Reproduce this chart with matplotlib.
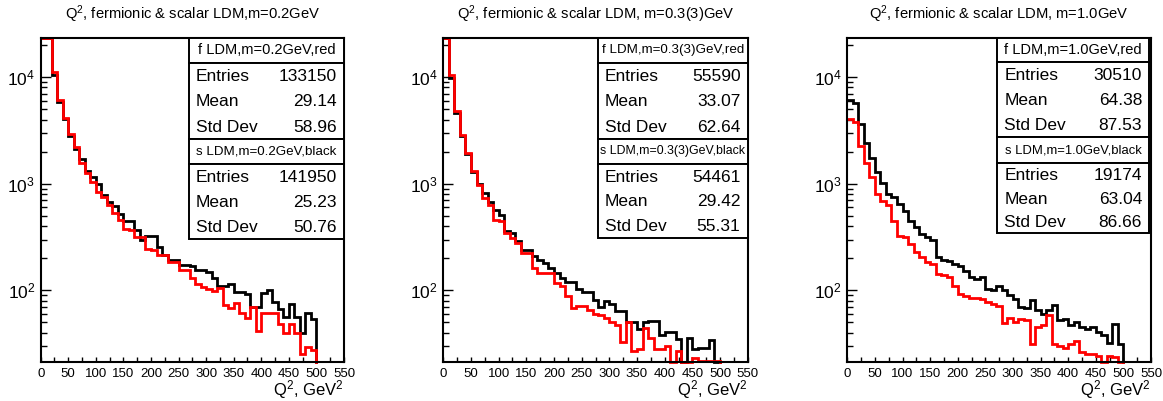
import numpy as np
import matplotlib.pyplot as plt
from matplotlib.patches import Rectangle
from matplotlib.ticker import MultipleLocator, LogLocator, NullFormatter

plt.rcParams['font.family'] = ['Liberation Sans', 'DejaVu Sans']
plt.rcParams['mathtext.fontset'] = 'custom'
plt.rcParams['mathtext.rm'] = 'Liberation Sans'
plt.rcParams['mathtext.it'] = 'Liberation Sans:italic'

# Q^2 bins, 10 GeV^2 wide, 0..500
edges = np.arange(0, 510, 10)

# m = 0.2 GeV
f_02 = [40000, 25000, 11300, 6170, 4130, 2940, 2210, 1570, 1260, 1040,
        836, 750, 626, 535, 453, 378, 365, 316, 316, 246,
        237, 213, 213, 184, 184, 154, 154, 130, 115, 108,
        104, 98, 106, 73, 68, 76, 61, 55, 70, 42,
        61, 61, 62, 48, 40, 48, 40, 25.5, 29.4, 27.4]
s_02 = [45000, 26000, 10500, 5830, 4060, 2780, 2130, 1710, 1330, 1155,
        1000, 777, 673, 613, 524, 447, 447, 365, 299, 321,
        321, 258, 213, 194, 194, 174, 174, 168, 156, 156,
        148, 130, 111, 109, 116, 96, 96, 92, 70, 70,
        95, 100, 78, 67, 56, 74, 56, 39.5, 62, 54]

# m = 0.3(3) GeV
f_033 = [30000, 10500, 4830, 2880, 1940, 1305, 978, 734, 635, 460,
         443, 345, 310, 277, 224, 224, 162, 145, 147, 147,
         117, 109, 88, 68, 71, 71, 66, 60, 59, 55,
         51, 47, 33, 50, 27, 28, 44, 36, 28.4, 28.4,
         30, 20, 27, 20, 20, 23, 22, 22, 22, 22]
s_033 = [28000, 9800, 4600, 2800, 1900, 1300, 990, 817, 682, 570,
         513, 357, 345, 288, 240, 240, 208, 194, 180, 162,
         145, 130, 119, 119, 103, 96, 96, 82, 70, 80,
         75, 64, 64, 51, 51, 43, 50, 52, 52, 38,
         41, 41, 35, 21, 36, 28, 29, 29, 34.5, 15]

# m = 1.0 GeV
f_10 = [4020, 3830, 2265, 1550, 1150, 800, 690, 637, 451, 327,
        315, 273, 228, 205, 184, 178, 143, 138, 133, 111,
        93, 88, 85, 85, 83.5, 77.8, 74, 70.8, 49.5, 55.6,
        50.6, 54.3, 52.5, 31.7, 45.4, 47.1, 58.4, 31.3, 30.2, 29.1,
        31.7, 33.6, 26.5, 25.2, 25.2, 24.1, 20, 24.1, 23.7, 20]
s_10 = [6060, 5760, 3610, 2430, 1760, 1276, 1028, 800, 744, 646,
        551, 451, 390, 339, 315, 297, 205, 191, 188, 178,
        171, 152, 133, 128, 133, 104, 101, 111, 101, 90,
        83.5, 69.8, 68.8, 80.7, 65, 60.5, 65, 72.4, 53.2, 54.3,
        47.1, 50.6, 45.4, 43.2, 45.4, 40.8, 38, 32.2, 48, 31.3]

titles = ["Q$^{2}$, fermionic & scalar LDM,m=0.2GeV",
          "Q$^{2}$, fermionic & scalar LDM, m=0.3(3)GeV",
          "Q$^{2}$, fermionic & scalar LDM, m=1.0GeV"]
f_names = ["f LDM,m=0.2GeV,red", "f LDM,m=0.3(3)GeV,red", "f LDM,m=1.0GeV,red"]
s_names = ["s LDM,m=0.2GeV,black", "s LDM,m=0.3(3)GeV,black", "s LDM,m=1.0GeV,black"]
f_stats = [("133150", "29.14", "58.96"), ("55590", "33.07", "62.64"), ("30510", "64.38", "87.53")]
s_stats = [("141950", "25.23", "50.76"), ("54461", "29.42", "55.31"), ("19174", "63.04", "86.66")]
f_data = [f_02, f_033, f_10]
s_data = [s_02, s_033, s_10]

W, H = 1163, 401
YMIN, YMAX = 21.3, 23300

fig = plt.figure(figsize=(W / 100, H / 100), dpi=100)

# layout in pixels (from top-left)
axes_px = [(40.7, 344), (443.3, 747.7), (847.3, 1151)]
top_px, bot_px = 38, 362
# stat boxes: x0, x1, y_top, y_sep1, y_mid, y_sep2, y_bottom
box_px = [(189, 344, 37.7, 62.7, 139, 164, 239),
          (598, 747.5, 37.7, 62.7, 139, 164, 237.7),
          (997.3, 1149, 37.7, 62.3, 137.3, 163.3, 233.3)]
f_title_size = [10.5, 9.6, 10.5]
s_title_size = [9.6, 8.9, 9.4]


def fx(x):
    return x / W


def fy(y):
    return 1 - y / H


def rect(x0, x1, y0, y1):
    r = Rectangle((fx(x0), fy(y1)), fx(x1) - fx(x0), fy(y0) - fy(y1),
                  transform=fig.transFigure, facecolor="white",
                  edgecolor="black", linewidth=1.4, zorder=10)
    fig.add_artist(r)


def stat_block(x0, x1, yt, ys, yb, name, tsize, vals):
    rect(x0, x1, yt, ys)
    rect(x0, x1, ys, yb)
    fig.text(fx((x0 + x1) / 2), fy((yt + ys) / 2), name, ha="center",
             va="center", fontsize=tsize, zorder=11)
    rh = (yb - ys) / 3
    for i, (lab, v) in enumerate(zip(["Entries", "Mean", "Std Dev"], vals)):
        yc = ys + rh * (i + 0.5) + 1
        fig.text(fx(x0 + 7), fy(yc), lab, ha="left", va="center",
                 fontsize=12.5, zorder=11)
        fig.text(fx(x1 - 7), fy(yc), v, ha="right", va="center",
                 fontsize=12.5, zorder=11)


def hist_line(ax, vals, color, z):
    # ROOT-like outline: no edge at x=0, drop to the frame after the last bin
    v = np.clip(np.array(vals, dtype=float), YMIN, YMAX)
    xs = np.r_[np.repeat(edges, 2)[1:-1], edges[-1]]
    ys = np.r_[np.repeat(v, 2), YMIN]
    ax.plot(xs, ys, color=color, linewidth=2.0, zorder=z, clip_on=False,
            solid_joinstyle="miter")


for k in range(3):
    xl, xr = axes_px[k]
    ax = fig.add_axes([fx(xl), fy(bot_px), fx(xr) - fx(xl), fy(top_px) - fy(bot_px)])
    ax.set_yscale("log")
    ax.set_xlim(0, 550)
    ax.set_ylim(YMIN, YMAX)

    hist_line(ax, s_data[k], "black", 3)
    hist_line(ax, f_data[k], "red", 4)

    ax.xaxis.set_major_locator(MultipleLocator(50))
    ax.xaxis.set_minor_locator(MultipleLocator(25))
    ax.yaxis.set_major_locator(LogLocator(base=10))
    ax.yaxis.set_minor_locator(LogLocator(base=10, subs=np.arange(2, 10)))
    ax.yaxis.set_minor_formatter(NullFormatter())
    ax.tick_params(axis="both", which="both", direction="in", top=False,
                   right=False, width=1.0)
    ax.tick_params(axis="x", which="both", length=3.6, labelsize=9.5, pad=4)
    ax.tick_params(axis="y", which="major", length=7, labelsize=12.5, pad=4)
    ax.tick_params(axis="y", which="minor", length=4)
    for sp in ax.spines.values():
        sp.set_linewidth(1.5)
        sp.set_zorder(5)

    ax.text(0.5, 1.072, titles[k], transform=ax.transAxes, ha="center",
            va="center", fontsize=10.6)
    ax.text(1.0, -0.086, "Q$^{2}$, GeV$^{2}$", transform=ax.transAxes,
            ha="right", va="center", fontsize=12)

    x0, x1, yt, ys1, ym, ys2, yb = box_px[k]
    stat_block(x0, x1, yt, ys1, ym, f_names[k], f_title_size[k], f_stats[k])
    stat_block(x0, x1, ym, ys2, yb, s_names[k], s_title_size[k], s_stats[k])

fig.savefig("out.png", dpi=100)
